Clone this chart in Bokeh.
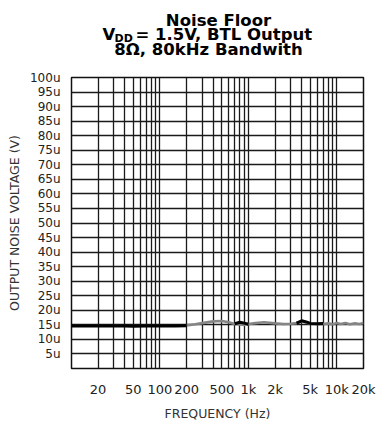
import numpy as np
from bokeh.plotting import figure
from bokeh.layouts import column
from bokeh.models import FixedTicker, Range1d
from bokeh.core.properties import value
from bokeh.embed import file_html
from bokeh.resources import INLINE

# Output noise (µV) versus frequency (Hz)
freq = [10, 15, 20, 30, 40, 50, 70, 100, 150, 200, 250, 300, 400, 500, 600, 700,
        800, 900, 1000, 1200, 1500, 2000, 2500, 3000, 3500, 4000, 4500, 5000,
        6000, 7000, 8000, 9000, 10000, 11000, 12500, 14000, 16000, 18000, 20000]
noise_black = [14.6, 14.6, 14.6, 14.6, 14.6, 14.5, 14.6, 14.6, 14.6, 14.7, None, None,
               None, None, None, 15.4, 15.9, 15.6, 15.2, None, None, None, None,
               None, 15.6, 16.4, 16.0, 15.5, 15.4, 15.5, None, None, None, None,
               None, None, None, None, None]
noise_gray = [None, None, None, None, None, None, None, None, None, 14.8, 15.2, 15.6,
              16.2, 16.3, 15.9, 15.3, 15.1, 15.0, 15.3, 15.6, 15.9, 15.5, 15.3,
              15.4, 15.6, 16.2, 15.9, 15.4, 15.3, 15.3, 15.5, 15.2, 15.6, 15.3,
              15.6, 15.2, 15.5, 15.3, 15.6]

x_tick_values = [20, 50, 100, 200, 500, 1000, 2000, 5000, 10000, 20000]
x_tick_labels = ["20", "50", "100", "200", "500", "1k", "2k", "5k", "10k", "20k"]
y_tick_values = list(range(5, 101, 5))
y_tick_labels = [f"{v}u" for v in y_tick_values]

title_lines = ["Noise Floor", "= 1.5V, BTL Output", "8\u03a9, 80kHz Bandwith"]

nan = float("nan")
nb = [nan if v is None else v for v in noise_black]
ng = [nan if v is None else v for v in noise_gray]

W, H = 378, 428
HEAD = 69            # height of the heading strip
LEFT, TOP, BOTTOM = 71, 8, 60
font = "DejaVu Sans"

# ---- heading strip: a bare figure whose units are pixels, y pointing down
head = figure(width=W, height=HEAD, x_range=Range1d(0, W), y_range=Range1d(HEAD, 0),
              output_backend="svg", toolbar_location=None,
              min_border=0, outline_line_color=None)
head.frame_align = False
head.axis.visible = False
head.grid.visible = False


def heading(x, y, text, size="16.5px", align="left"):
    head.text(x=[x], y=[y], text=[text], text_align=align,
              text_baseline="alphabetic", text_font=value(font),
              text_font_style="bold", text_font_size=size, text_color="#000000")


heading(218, 20, title_lines[0], align="center")
heading(102, 34, "V")
heading(114, 38, "DD", size="11px")
heading(135, 34, title_lines[1])
heading(208, 49, title_lines[2], align="center")

# ---- main chart
p = figure(width=W, height=H - HEAD, x_axis_type="log",
           x_range=Range1d(10, 20000), y_range=Range1d(0, 100),
           output_backend="svg", toolbar_location=None,
           min_border_left=LEFT, min_border_right=15,
           min_border_top=TOP, min_border_bottom=BOTTOM)
p.frame_align = False
p.background_fill_color = "white"
p.border_fill_color = "white"
p.outline_line_color = "#111111"
p.outline_line_width = 1.5

# grid: every 1-9 multiple per decade, every 5 µV
grid_x = [m * 10 ** d for d in range(1, 5) for m in range(1, 10) if 10 < m * 10 ** d <= 20000]
p.xgrid.ticker = FixedTicker(ticks=grid_x)
p.ygrid.ticker = FixedTicker(ticks=list(range(0, 101, 5)))
for g in (p.xgrid, p.ygrid):
    g.grid_line_color = "#1a1a1a"
    g.grid_line_width = 1.3
    g.grid_line_alpha = 1.0

xa = p.xaxis[0]
xa.ticker = FixedTicker(ticks=x_tick_values)
xa.major_label_overrides = {v: t for v, t in zip(x_tick_values, x_tick_labels)}
ya = p.yaxis[0]
ya.ticker = FixedTicker(ticks=y_tick_values)
ya.major_label_overrides = {v: t for v, t in zip(y_tick_values, y_tick_labels)}
for ax in (xa, ya):
    ax.axis_line_color = None
    ax.major_tick_line_color = None
    ax.minor_tick_line_color = None
    ax.major_label_text_font = font
    ax.major_label_text_color = "#222222"
    ax.axis_label_text_font = font
    ax.axis_label_text_font_style = "normal"
    ax.axis_label_text_font_size = "12.5px"
    ax.axis_label_text_color = "#333333"
xa.major_label_text_font_size = "13px"
xa.major_label_standoff = 7
xa.axis_label = "FREQUENCY (Hz)"
xa.axis_label_standoff = 6
ya.major_label_text_font_size = "12px"
ya.major_label_standoff = 5
ya.axis_label = "OUTPUT NOISE VOLTAGE (V)"
ya.axis_label_standoff = 5

p.line(freq, ng, line_color="#858585", line_width=2.6)
p.line(freq, nb, line_color="#000000", line_width=3)

layout = column(head, p, spacing=0)
open("out.html", "w").write(file_html(layout, INLINE))
